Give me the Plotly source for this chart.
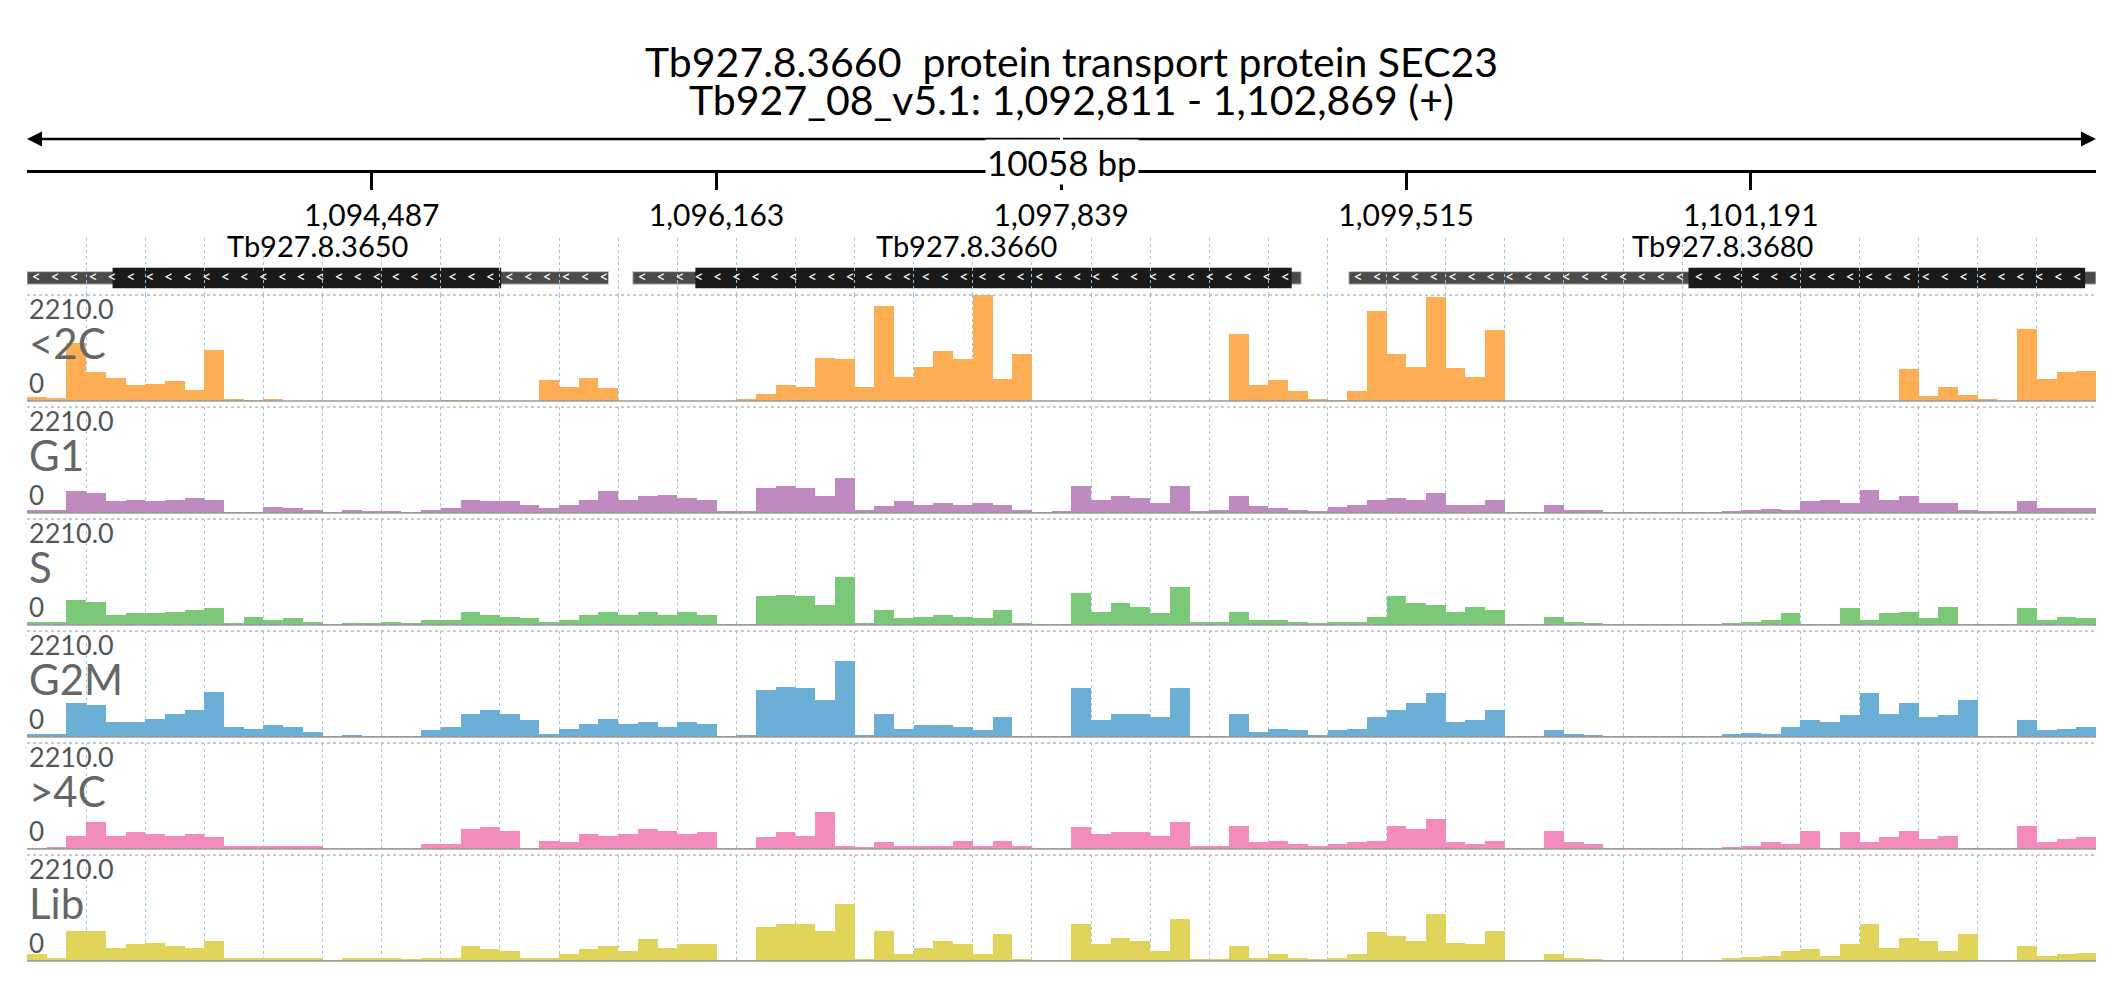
import numpy as np
import plotly.graph_objects as go

start, end = 1092811, 1102869
chrom = "Tb927_08_v5.1"
gene_title = "Tb927.8.3660  protein transport protein SEC23"
tick_vals = [1094487, 1096163, 1097839, 1099515, 1101191]

gene_names = ["Tb927.8.3650", "Tb927.8.3660", "Tb927.8.3680"]
utr_start = [1092811, 1095756, 1099237]
utr_end = [1095638, 1099005, 1102869]
cds_start = [1093227, 1096060, 1100888]
cds_end = [1095116, 1098959, 1102816]

track_names = ["<2C", "G1", "S", "G2M", ">4C", "Lib"]
track_colors = ["#fdae55", "#be8ac0", "#7bc878", "#6baed6", "#f38cbc", "#e0d45a"]
y_max = 2210.0

cov_2c = [80, 60, 1200, 600, 470, 330, 360, 420, 220, 1070, 30, 20,
          50, 0, 0, 0, 0, 0, 0, 0, 0, 10, 15, 0, 0, 0, 430, 300, 480, 280,
          0, 0, 0, 0, 0, 0, 40, 150, 330, 300, 890, 870, 300, 1990, 500,
          700, 1050, 870, 2200, 450, 990, 0, 0, 0, 0, 0, 0, 0, 0, 0,
          0, 1400, 330, 430, 200, 40, 10, 200, 1880, 980, 700, 2160,
          680, 500, 1480, 0, 0, 0, 0, 0, 0, 0, 0, 0, 0, 0, 0, 0, 0, 10,
          0, 0, 0, 0, 0, 660, 100, 300, 130, 30, 0, 1500, 450, 600, 620]
cov_g1 = [55, 70, 450, 420, 245, 265, 245, 265, 315, 280, 14, 14,
          125, 100, 55, 14, 55, 35, 40, 20, 70, 105, 280, 245, 245, 175, 105,
          175, 280, 450, 280, 350, 385, 315, 280, 35, 35, 520, 560,
          520, 350, 730, 70, 140, 245, 175, 210, 175, 210, 175, 70,
          14, 35, 560, 280, 350, 315, 210, 560, 35, 55, 350, 140,
          105, 55, 28, 125, 175, 280, 315, 280, 420, 175, 175, 280,
          14, 14, 175, 70, 55, 20, 14, 14, 14, 14, 14, 35, 70, 85, 70,
          245, 280, 210, 490, 280, 350, 210, 210, 70, 35, 35, 245, 105, 105, 105]
cov_s = [55, 70, 520, 490, 210, 245, 245, 280, 315, 350, 35, 175,
         105, 140, 70, 14, 35, 35, 55, 35, 105, 105, 280, 210, 175, 140, 70,
         105, 210, 280, 210, 280, 210, 280, 210, 20, 20, 600, 630,
         600, 420, 1010, 35, 315, 140, 175, 210, 175, 140, 315, 35,
         14, 14, 665, 280, 455, 385, 245, 800, 55, 55, 280, 105,
         105, 70, 35, 55, 70, 175, 600, 455, 420, 280, 385, 315,
         14, 14, 175, 55, 35, 14, 14, 14, 14, 14, 14, 35, 70, 105, 245,
         14, 14, 350, 105, 245, 280, 140, 385, 20, 20, 20, 350, 105, 175, 140]
cov_g2m = [70, 70, 700, 665, 315, 315, 385, 490, 560, 945, 210, 175,
           245, 210, 105, 14, 35, 20, 20, 20, 140, 210, 490, 560, 490, 350, 70,
           175, 280, 385, 280, 315, 210, 315, 280, 20, 35, 980, 1050,
           1015, 770, 1575, 35, 490, 175, 245, 245, 210, 140, 420, 20,
           20, 20, 1015, 350, 490, 490, 420, 1015, 20, 20, 490, 105,
           175, 140, 35, 140, 175, 420, 560, 700, 910, 315, 350, 560,
           14, 14, 140, 55, 35, 14, 14, 14, 14, 14, 20, 70, 85, 70, 210,
           350, 315, 455, 910, 490, 700, 420, 455, 770, 20, 20, 350, 140, 175, 210]
cov_4c = [20, 35, 280, 560, 280, 350, 315, 280, 315, 245, 55, 70,
          55, 55, 55, 14, 14, 20, 20, 20, 105, 105, 420, 455, 385, 20, 175,
          140, 315, 280, 315, 420, 385, 315, 350, 20, 20, 245, 350,
          280, 770, 70, 35, 140, 55, 55, 70, 175, 70, 175, 70,
          20, 20, 455, 315, 350, 350, 280, 560, 55, 70, 490, 140,
          175, 105, 70, 105, 140, 175, 490, 420, 630, 140, 105, 175,
          20, 20, 385, 140, 105, 20, 14, 14, 14, 14, 20, 35, 70, 140, 105,
          385, 14, 350, 140, 245, 385, 210, 280, 20, 20, 20, 490, 140, 210, 245]
cov_lib = [140, 70, 630, 630, 280, 350, 385, 315, 280, 420, 70, 70,
           55, 55, 55, 20, 55, 70, 55, 35, 70, 70, 315, 245, 210, 70, 70,
           140, 245, 315, 210, 455, 280, 350, 350, 20, 20, 700, 770,
           770, 630, 1190, 35, 630, 140, 280, 420, 350, 140, 560, 35,
           20, 20, 770, 350, 490, 420, 210, 875, 35, 35, 315, 70,
           140, 55, 35, 70, 140, 595, 525, 420, 980, 385, 350, 630,
           20, 20, 140, 55, 35, 14, 14, 14, 14, 14, 20, 70, 85, 105, 210,
           245, 105, 350, 770, 280, 490, 420, 210, 560, 20, 20, 315, 105, 140, 175]
coverage = [cov_2c, cov_g1, cov_s, cov_g2m, cov_4c, cov_lib]

W, H = 2126, 1000
x_left, x_right = 19 / W, 2088 / W
grid_step = (end - start) / 35
font = "Lato, 'Open Sans', sans-serif"

fig = go.Figure()
layout = dict(width=W, height=H, margin=dict(l=0, r=0, t=0, b=0),
              paper_bgcolor="white", plot_bgcolor="white", showlegend=False,
              bargap=0, font=dict(family=font, color="black"))


def xaxis_common():
    return dict(range=[start, end], domain=[x_left, x_right], showticklabels=False,
                ticks="", showgrid=True, gridcolor="#9cc8ea", griddash="dot",
                gridwidth=1.3, tick0=start, dtick=grid_step, zeroline=False,
                showline=False, fixedrange=True)


def ydomain(top_px, bottom_px):
    return [1 - bottom_px / H, 1 - top_px / H]


# gene model panel
layout["xaxis"] = xaxis_common()
layout["yaxis"] = dict(domain=ydomain(230, 287), range=[0, 1], visible=False, fixedrange=True)
shapes = []
annotations = []
for name, us, ue, cs, ce in zip(gene_names, utr_start, utr_end, cds_start, cds_end):
    shapes.append(dict(type="rect", xref="x", yref="y", x0=us, x1=ue, y0=0.19, y1=0.41,
                       fillcolor="#4a4a4a", line=dict(width=1, color="#c8c8c8"), layer="below"))
    shapes.append(dict(type="rect", xref="x", yref="y", x0=cs, x1=ce, y0=0.12, y1=0.48,
                       fillcolor="#1a1a1a", line=dict(width=0), layer="below"))
    chev = np.arange(us + 45, ue - 20, 92)
    fig.add_trace(go.Scatter(x=chev, y=[0.3] * len(chev), mode="text", text=["<"] * len(chev),
                             textfont=dict(color="white", size=16, family=font),
                             xaxis="x", yaxis="y", hoverinfo="skip"))
    annotations.append(dict(x=(us + ue) / 2, y=0.52, xref="x", yref="y", text=name,
                            showarrow=False, yanchor="bottom", font=dict(size=29, color="black")))

# coverage tracks
for k, (name, color, vals) in enumerate(zip(track_names, track_colors, coverage)):
    top = 287 + 112 * k
    bottom = top + 106
    n = len(vals)
    bw = (end - start) / n
    xs = start + (np.arange(n) + 0.5) * bw
    ax = str(k + 2)
    layout["xaxis" + ax] = dict(xaxis_common(), anchor="y" + ax, matches="x")
    layout["yaxis" + ax] = dict(domain=ydomain(top, bottom), range=[0, y_max], visible=False,
                                anchor="x" + ax, fixedrange=True)
    fig.add_trace(go.Bar(x=xs, y=vals, width=bw, marker=dict(color=color, line=dict(width=0)),
                         xaxis="x" + ax, yaxis="y" + ax, hoverinfo="x+y"))
    shapes.append(dict(type="line", xref="x" + ax + " domain", yref="y" + ax + " domain",
                       x0=0, x1=1, y0=1, y1=1, line=dict(color="#bbbbbb", width=1.5, dash="dot")))
    shapes.append(dict(type="line", xref="x" + ax + " domain", yref="y" + ax + " domain",
                       x0=0, x1=1, y0=0, y1=0, line=dict(color="#999999", width=1.5)))
    annotations.append(dict(x=0, y=1, xref="x" + ax + " domain", yref="y" + ax + " domain",
                            text="%.1f" % y_max, showarrow=False, xanchor="left", yanchor="top",
                            yshift=5, font=dict(size=27, color="#555555")))
    annotations.append(dict(x=0, y=0.55, xref="x" + ax + " domain", yref="y" + ax + " domain",
                            text=name, showarrow=False, xanchor="left", yanchor="middle",
                            font=dict(size=42, color="#666666")))
    annotations.append(dict(x=0, y=0, xref="x" + ax + " domain", yref="y" + ax + " domain",
                            text="0", showarrow=False, xanchor="left", yanchor="bottom",
                            font=dict(size=26, color="#555555")))

# coordinate axis at top
layout["xaxis9"] = dict(range=[start, end], domain=[x_left, x_right], anchor="free",
                        position=1 - 163 / H, overlaying="x", showline=True, linewidth=3,
                        linecolor="black", ticks="outside", ticklen=17, tickwidth=3,
                        tickcolor="black", tickvals=tick_vals, tickformat=",d",
                        tickfont=dict(size=30, color="black"), showgrid=False,
                        zeroline=False, side="bottom", fixedrange=True)
fig.add_trace(go.Scatter(x=[start, end], y=[None, None], xaxis="x9", yaxis="y",
                         mode="lines", hoverinfo="skip"))

# span arrow
mid = (start + end) / 2
for tip in (start, end):
    annotations.append(dict(x=tip, y=1 - 131 / H, xref="x9", yref="paper", ax=mid, ay=0,
                            axref="x9", ayref="pixel", text="", showarrow=True, arrowhead=2,
                            arrowsize=1.2, arrowwidth=2.5, arrowcolor="black"))
annotations.append(dict(x=mid, y=1 - 131 / H, xref="x9", yref="paper",
                        text="%d bp" % (end - start), showarrow=False, bgcolor="white",
                        font=dict(size=35, color="black")))

annotations.append(dict(x=0.5, y=1 - 27 / H, xref="paper", yref="paper", text=gene_title,
                        showarrow=False, font=dict(size=41, color="black")))
annotations.append(dict(x=0.5, y=1 - 65 / H, xref="paper", yref="paper",
                        text="%s: %s - %s (+)" % (chrom, format(start, ","), format(end, ",")),
                        showarrow=False, font=dict(size=41, color="black")))

layout["shapes"] = shapes
layout["annotations"] = annotations
fig.update_layout(**layout)
fig.write_html("out.html")
